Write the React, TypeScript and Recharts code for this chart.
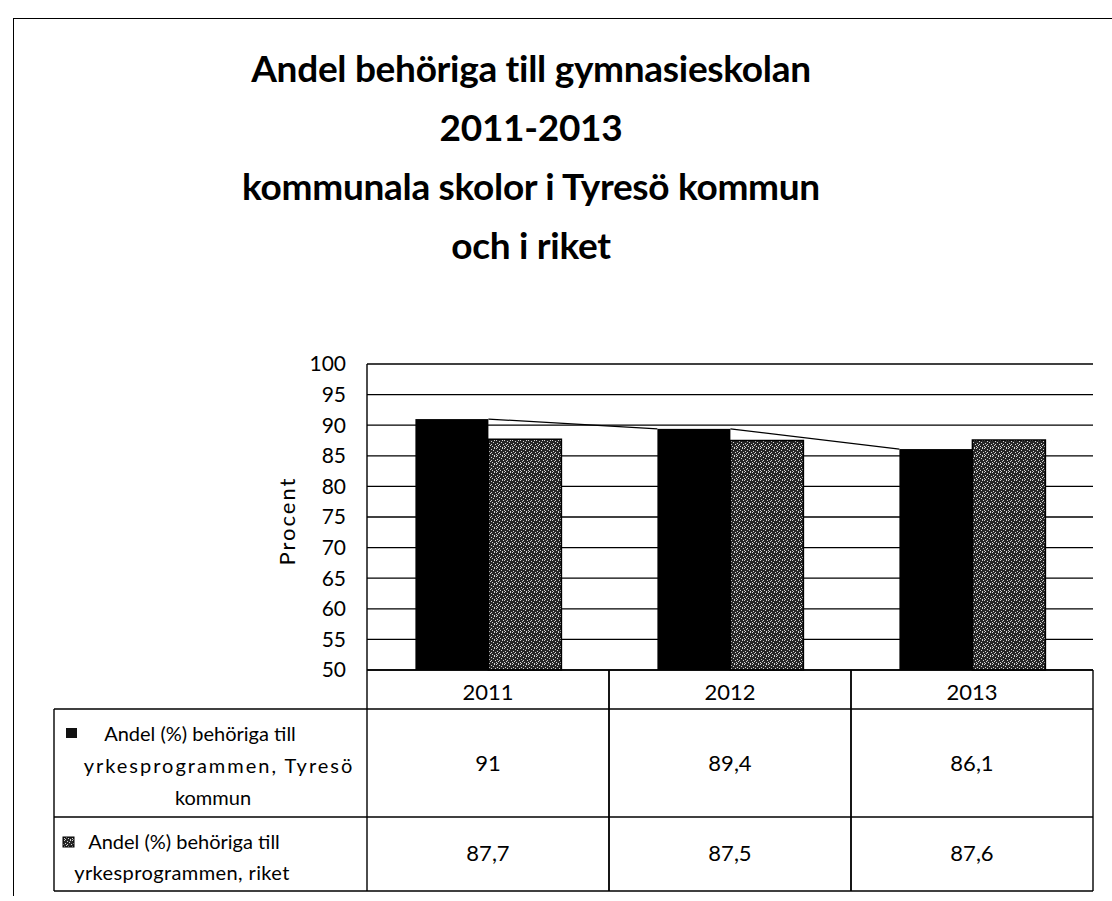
import React from 'react'
import { ComposedChart, Bar, XAxis, YAxis, CartesianGrid } from 'recharts'

const TITLE_LINES = [
  'Andel behöriga till gymnasieskolan',
  '2011-2013',
  'kommunala skolor i Tyresö kommun',
  'och i riket',
]
const YEARS = ['2011', '2012', '2013']
const TYRESO = [91, 89.4, 86.1]
const RIKET = [87.7, 87.5, 87.6]
const Y_TICKS = [50, 55, 60, 65, 70, 75, 80, 85, 90, 95, 100]
const TYRESO_LABEL = ['Andel (%) behöriga till', 'yrkesprogrammen, Tyresö', 'kommun']
const RIKET_LABEL = ['Andel (%) behöriga till', 'yrkesprogrammen, riket']

const FONT = 'Lato, "Open Sans", sans-serif'
const W = 1112
const H = 901
const PLOT_LEFT = 367
const PLOT_RIGHT = 1093
const PLOT_TOP = 364
const PLOT_BOTTOM = 670
const Y_AXIS_W = 80
const X_AXIS_H = 225
const CAT_W = (PLOT_RIGHT - PLOT_LEFT) / YEARS.length
const LABEL_LEFT = 54

// light speckles of the scanned grey fill
const SPECKLES = [
  [0, 0], [3, 1], [6, 0], [1, 3], [5, 2], [7, 4], [2, 5], [4, 6], [0, 6], [6, 7], [3, 4], [1, 7],
]

const data = YEARS.map((year, i) => ({ year, tyreso: TYRESO[i], riket: RIKET[i] }))

const fmt = (v: number) => String(v).replace('.', ',')

// black bar + Excel-style series line to the next black bar
function TyresoBar(props: any) {
  const { x, y, width, height, index } = props
  const v = TYRESO[index]
  const next = TYRESO[index + 1]
  let line = null
  if (next !== undefined && height > 0) {
    const pxPerUnit = height / (v - 50)
    const ny = y + height - (next - 50) * pxPerUnit
    line = <line x1={x + width} y1={y} x2={x + CAT_W} y2={ny} stroke="#000" strokeWidth={1.3} />
  }
  return (
    <g>
      <rect x={x} y={y} width={width} height={height} fill="#000" />
      {line}
    </g>
  )
}

function TableTick(props: any) {
  const { x, y, payload, index } = props
  const left = x - CAT_W / 2
  const right = x + CAT_W / 2
  const r1 = y + 39
  const r2 = y + 147
  const r3 = y + 221
  const s = { stroke: '#000', strokeWidth: 1.4 }
  const txt = { fontFamily: FONT, fontSize: 20, fill: '#000', textAnchor: 'middle' as const }
  const num = { ...txt, fontSize: 22 }
  return (
    <g>
      <line x1={left} y1={y} x2={left} y2={r3} {...s} />
      <line x1={right} y1={y} x2={right} y2={r3} {...s} />
      <line x1={left} y1={r1} x2={right} y2={r1} {...s} />
      <line x1={left} y1={r2} x2={right} y2={r2} {...s} />
      <line x1={left} y1={r3} x2={right} y2={r3} {...s} />
      <text x={x} y={y + 30} {...num}>{payload.value}</text>
      <text x={x} y={y + 101} {...num}>{fmt(TYRESO[index])}</text>
      <text x={x} y={y + 191} {...num}>{fmt(RIKET[index])}</text>
      {index === 0 && (
        <g>
          <line x1={LABEL_LEFT} y1={r1} x2={left} y2={r1} {...s} />
          <line x1={LABEL_LEFT} y1={r2} x2={left} y2={r2} {...s} />
          <line x1={LABEL_LEFT} y1={r3} x2={left} y2={r3} {...s} />
          <line x1={LABEL_LEFT} y1={r1} x2={LABEL_LEFT} y2={r3} {...s} />
          <rect x={66} y={y + 58} width={11} height={10} fill="#111" />
          <text x={200} y={y + 71} {...txt}>{TYRESO_LABEL[0]}</text>
          <text x={219} y={y + 103} {...txt} letterSpacing={2}>{TYRESO_LABEL[1]}</text>
          <text x={213} y={y + 135} {...txt}>{TYRESO_LABEL[2]}</text>
          <rect x={63} y={y + 167} width={11} height={10} fill="url(#dither)" stroke="#000" strokeWidth={1} />
          <text x={184} y={y + 179} {...txt}>{RIKET_LABEL[0]}</text>
          <text x={182} y={y + 210} {...txt} letterSpacing={0.4}>{RIKET_LABEL[1]}</text>
        </g>
      )}
    </g>
  )
}

function ProcentLabel(props: any) {
  const { viewBox } = props
  const cy = viewBox.y + viewBox.height / 2 + 4
  const cx = 286
  return (
    <text x={cx} y={cy} transform={`rotate(-90 ${cx} ${cy})`} textAnchor="middle" dominantBaseline="central"
      fontFamily={FONT} fontSize={22} letterSpacing={2} fill="#000">
      Procent
    </text>
  )
}

export default function App() {
  return (
    <div style={{ position: 'absolute', left: 0, top: 0, width: W, height: H, background: '#fff', overflow: 'hidden' }}>
      <div style={{ position: 'absolute', left: 13, top: 18, width: W, height: 877, borderLeft: '1.5px solid #000', borderTop: '1.5px solid #000' }} />
      <div style={{ position: 'absolute', left: 0, top: 38, width: 1062, textAlign: 'center', fontFamily: FONT, fontWeight: 700, fontSize: 37, letterSpacing: -0.3, lineHeight: '59px', color: '#000' }}>
        {TITLE_LINES.map((t) => (
          <div key={t}>{t}</div>
        ))}
      </div>
      <div style={{ position: 'absolute', left: 0, top: 0 }}>
        <ComposedChart
          width={W}
          height={H}
          data={data}
          margin={{ top: PLOT_TOP, right: W - PLOT_RIGHT, left: PLOT_LEFT - Y_AXIS_W, bottom: H - PLOT_BOTTOM - X_AXIS_H }}
          barCategoryGap="20%"
          barGap={0}
        >
          <defs>
            <pattern id="dither" width={8} height={8} patternUnits="userSpaceOnUse">
              <rect width={8} height={8} fill="#262626" />
              {SPECKLES.map(([px, py]) => (
                <rect key={`${px}-${py}`} x={px} y={py} width={1} height={1} fill="#d4d4d4" />
              ))}
            </pattern>
          </defs>
          <CartesianGrid vertical={false} stroke="#000" strokeWidth={1.3} />
          <XAxis
            dataKey="year"
            height={X_AXIS_H}
            axisLine={{ stroke: '#000', strokeWidth: 1.4 }}
            tickLine={false}
            tickSize={0}
            tickMargin={0}
            interval={0}
            tick={<TableTick />}
          />
          <YAxis
            domain={[50, 100]}
            ticks={Y_TICKS}
            interval={0}
            width={Y_AXIS_W}
            axisLine={{ stroke: '#000', strokeWidth: 1.4 }}
            tickLine={false}
            tickMargin={15}
            tick={{ fontFamily: FONT, fontSize: 21, fill: '#000' }}
            label={<ProcentLabel />}
          />
          <Bar dataKey="tyreso" shape={<TyresoBar />} isAnimationActive={false} />
          <Bar dataKey="riket" fill="url(#dither)" stroke="#000" strokeWidth={1.5} isAnimationActive={false} />
        </ComposedChart>
      </div>
    </div>
  )
}
